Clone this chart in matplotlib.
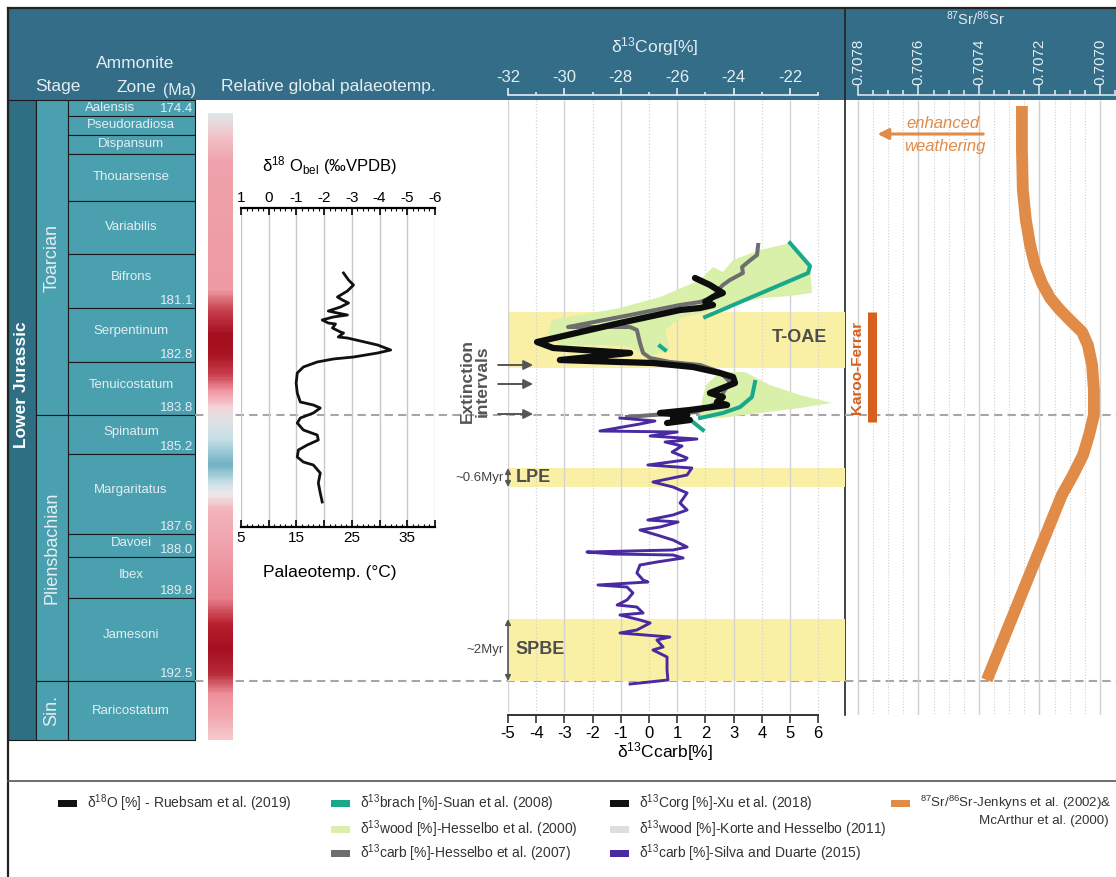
import numpy as np
import matplotlib.pyplot as plt
import matplotlib.transforms as mtransforms
from matplotlib.patches import Rectangle
from matplotlib.colors import LinearSegmentedColormap
from matplotlib.ticker import MultipleLocator, FormatStrFormatter

plt.rcParams['font.family'] = ['Liberation Sans', 'DejaVu Sans']
plt.rcParams['mathtext.fontset'] = 'custom'
plt.rcParams['mathtext.rm'] = 'Liberation Sans'
plt.rcParams['mathtext.it'] = 'Liberation Sans:italic'
plt.rcParams['mathtext.bf'] = 'Liberation Sans:bold'
plt.rcParams['axes.unicode_minus'] = False

# ---- data (vertical unit = stratigraphic level of the chart, 100 = top, 740 = base) ----
zone_names = ['Aalensis', 'Pseudoradiosa', 'Dispansum', 'Thouarsense', 'Variabilis', 'Bifrons',
              'Serpentinum', 'Tenuicostatum', 'Spinatum', 'Margaritatus', 'Davoei', 'Ibex',
              'Jamesoni', 'Raricostatum']
zone_top = [100, 116, 135, 154, 201, 254, 308, 362, 415, 454, 534, 557, 598, 681]
zone_base = [116, 135, 154, 201, 254, 308, 362, 415, 454, 534, 557, 598, 681, 740]
zone_age = ['174.4', '', '', '', '', '181.1', '182.8', '183.8', '185.2', '187.6', '188.0',
            '189.8', '192.5', '']

stage_names = ['Toarcian', 'Pliensbachian', 'Sin.']
stage_top = [100, 415, 681]
stage_base = [415, 681, 740]

boundary_level = [415, 681]

# relative palaeotemperature colour bar
pt_level = [113, 135, 160, 290, 310, 335, 355, 375, 392, 408, 420, 440, 465, 485, 495,
            510, 560, 600, 625, 650, 675, 695, 720, 740]
pt_color = ['#dfe6ea', '#f2c4ca', '#f0a3ac', '#ee9aa4', '#c8404e', '#a50f1f', '#a81422',
            '#c94050', '#f29aa5', '#f4d4d8', '#dfe3e6', '#c6dfe6', '#6fb2c4', '#cfe2e8',
            '#f0e8ea', '#f3b5bd', '#ef9ba6', '#e87f8c', '#b8202f', '#a50f1f', '#b62a37',
            '#ee8f9b', '#f2aab2', '#f6c8cd']

# d18O belemnites (Ruebsam et al. 2019)
d18o_level = [273, 280, 285, 291, 297, 300, 303, 307, 311, 313, 315, 317, 320, 323, 324, 328,
              332, 333, 337, 338, 341, 345, 350, 353, 357, 359, 362, 367, 373, 383, 393, 402,
              405, 408, 413, 418, 423, 430, 435, 440, 445, 450, 457, 462, 465, 473, 483, 493,
              502]
d18o_value = [-2.70, -2.88, -3.06, -2.84, -2.48, -2.66, -2.88, -2.59, -2.15, -2.48, -2.84,
              -2.33, -1.93, -2.15, -2.41, -2.30, -2.59, -2.70, -2.51, -2.84, -3.31, -3.93,
              -4.40, -3.93, -3.06, -2.33, -1.75, -1.25, -1.03, -0.99, -1.03, -1.14, -1.61,
              -1.86, -1.61, -1.14, -1.03, -1.25, -1.75, -1.79, -1.39, -1.07, -1.03, -1.25,
              -1.61, -1.86, -1.79, -1.86, -1.93]

# d13Corg (Xu et al. 2018)
corg_level = [278, 285, 293, 297, 302, 305, 308, 310, 323, 342, 348, 353, 360, 362, 363, 367,
              373, 377, 383, 393, 397, 402, 405, 410, 413, 415, 418, 420, 423]
corg_value = [-25.37, -24.84, -24.38, -24.73, -25.01, -24.73, -25.19, -25.90, -28.03, -30.97,
              -30.40, -27.67, -30.16, -28.03, -26.86, -25.44, -24.48, -24.02, -23.95, -24.84,
              -24.38, -24.59, -24.23, -25.55, -26.61, -25.65, -26.15, -25.55, -26.36]

# d13Cwood (Hesselbo et al. 2000), outlines of the two shaded envelopes
wood1_level = [243, 265, 293, 296, 298, 305, 312, 318, 330, 350, 356, 347, 345, 345, 335,
               320, 315, 308, 297, 280, 267, 272, 260, 250]
wood1_value = [-22.00, -21.29, -21.22, -22.00, -22.96, -24.13, -24.94, -25.90, -26.43, -26.26,
               -26.96, -27.67, -28.74, -30.16, -30.58, -30.44, -29.45, -28.03, -26.61, -25.19,
               -24.73, -24.38, -24.02, -23.06]
wood2_level = [372, 372, 385, 395, 403, 408, 413, 418, 418, 400, 385]
wood2_value = [-24.48, -23.60, -22.71, -21.65, -20.51, -21.65, -23.06, -24.48, -25.19,
               -25.12, -24.98]

# d13Ccarb (Hesselbo et al. 2007)
hcarb_level = [245, 255, 262, 267, 273, 280, 285, 290, 297, 302, 305, 315, 327, 327, 330, 343,
               353, 358, 362, 365, 372, 382, 393, 403, 412, 415, 417]
hcarb_value = [3.87, 3.83, 3.51, 3.30, 3.33, 2.87, 2.62, 2.45, 2.27, 1.81, 1.10, -0.67, -2.87,
               -0.67, -0.43, -0.32, -0.21, 0.04, 0.74, 1.81, 2.52, 2.87, 2.62, 2.41, 1.70,
               0.14, -0.78]

# d13Cbrach (Suan et al. 2008), nan separates sections
brach_level = [243, 266, 273, 317, np.nan, 346, 350, np.nan, 382, 397, 407, 413, 418, np.nan,
               422, 430]
brach_value = [5.00, 5.71, 5.64, 1.99, np.nan, 0.39, 0.57, np.nan, 3.76, 3.65, 3.23, 2.62,
               1.81, np.nan, 1.56, 1.91]

# d13Ccarb (Silva and Duarte 2015)
scarb_level = [418, 421, 424, 431, 432, 436, 439, 442, 446, 452, 458, 460, 465, 468, 475, 482,
               487, 493, 503, 510, 515, 520, 522, 527, 530, 535, 540, 547, 550, 552, 554, 555,
               558, 562, 565, 573, 580, 582, 585, 587, 593, 600, 605, 607, 613, 615, 620, 623,
               630, 633, 637, 640, 647, 650, 657, 670, 680, 683, 684]
scarb_value = [-1.03, 0.21, -0.32, -1.74, 1.00, 0.04, 1.70, 0.57, 1.17, 0.82, 1.35, 1.28,
               -0.04, 1.52, 1.35, 0.14, 0.85, 1.35, 1.10, 1.35, 0.85, -0.04, 1.03, 0.39, -0.32,
               0.28, 0.85, 1.35, 0.85, -2.20, -1.28, 0.85, 1.21, 0.28, -0.32, -0.43, -0.21,
               -0.04, -1.81, -0.78, -0.57, -0.78, -1.13, -0.43, -0.21, -1.03, -0.32, 0.04,
               -0.43, -1.03, 0.74, 0.28, 0.50, 0.14, 0.64, 0.64, 0.67, -0.32, -0.67]

band_names = ['T-OAE', 'LPE', 'SPBE']
band_top = [312, 468, 619]
band_base = [368, 487, 681]
band_span = ['', '~0.6Myr', '~2Myr']

extinction_level = [365, 384, 414]

# 87Sr/86Sr (Jenkyns et al. 2002 & McArthur et al. 2000)
sr_level = [106, 150, 190, 220, 245, 265, 283, 298, 310, 322, 332, 345, 365, 390, 415, 435,
            455, 475, 495, 680]
sr_value = [0.707258, 0.707258, 0.707255, 0.707245, 0.707231, 0.707215, 0.707192, 0.707165,
            0.707132, 0.707093, 0.707059, 0.707040, 0.707026, 0.707020, 0.707020, 0.707036,
            0.707056, 0.707089, 0.707126, 0.707374]
karoo_level = [312, 422]

legend_items = [
    ('δ$^{18}$O [%] - Ruebsam et al. (2019)', '#111111'),
    ('δ$^{13}$brach [%]-Suan et al. (2008)', '#1aa88b'),
    ('δ$^{13}$wood [%]-Hesselbo et al. (2000)', '#d9f0ab'),
    ('δ$^{13}$carb [%]-Hesselbo et al. (2007)', '#6e6e6e'),
    ('δ$^{13}$Corg [%]-Xu et al. (2018)', '#111111'),
    ('δ$^{13}$wood [%]-Korte and Hesselbo (2011)', '#dedede'),
    ('δ$^{13}$carb [%]-Silva and Duarte (2015)', '#4a2aa0'),
    ('$^{87}$Sr/$^{86}$Sr-Jenkyns et al. (2002)&', '#e08b48'),
]

# ---- styles ----
HEADER = '#336d88'
CELL = '#4ba0af'
DARK = '#2e6f84'
LIGHT = '#e4eef2'
TXT = '#4d4d4d'
W, H = 1116, 877

fig = plt.figure(figsize=(W / 100, H / 100), dpi=100)


def panel(x0, y0, x1, y1, **kw):
    return fig.add_axes([x0 / W, 1 - y1 / H, (x1 - x0) / W, (y1 - y0) / H], **kw)


bg = panel(0, 0, W, H)
bg.set_xlim(0, W)
bg.set_ylim(H, 0)
bg.axis('off')

bg.add_patch(Rectangle((8, 8), W - 8, 92, fc=HEADER, ec='none'))
bg.plot([8, 8], [8, H], color='#222222', lw=1.6)
bg.plot([8, W], [8, 8], color='#222222', lw=1.6)
bg.plot([845, 845], [8, 715], color='#222222', lw=1.2)
bg.plot([8, W], [781, 781], color='#555555', lw=1.2)

for lvl in boundary_level:
    bg.plot([195, W], [lvl, lvl], color='#a6a6a6', lw=1.5, ls=(0, (4, 2.5)))

# header texts
bg.text(58, 87, 'Stage', color=LIGHT, fontsize=12.5, ha='center', va='center')
bg.text(135, 63, 'Ammonite', color=LIGHT, fontsize=12.5, ha='center', va='center')
bg.text(136, 88, 'Zone', color=LIGHT, fontsize=12.5, ha='center', va='center')
bg.text(179, 91, '(Ma)', color=LIGHT, fontsize=11.5, ha='center', va='center')
bg.text(328, 86, 'Relative global palaeotemp.', color=LIGHT, fontsize=12.5, ha='center', va='center')
bg.text(655, 47, 'δ$^{13}$Corg[%]', color=LIGHT, fontsize=12.5, ha='center', va='center')
bg.text(975, 19, '$^{87}$Sr/$^{86}$Sr', color=LIGHT, fontsize=10.5, ha='center', va='center')

# stratigraphic columns
bg.add_patch(Rectangle((8, 100), 28, 640, fc=DARK, ec='#1a1a1a', lw=0.8))
bg.text(22, 385, 'Lower Jurassic', rotation=90, color='white', fontsize=12.5,
        fontweight='bold', ha='center', va='center')
for name, top, base in zip(stage_names, stage_top, stage_base):
    bg.add_patch(Rectangle((36, top), 32, base - top, fc=CELL, ec='#1a1a1a', lw=0.8))
    bg.text(52, (top + base) / 2, name, rotation=90, color=LIGHT, fontsize=13,
            ha='center', va='center')
for name, top, base, age in zip(zone_names, zone_top, zone_base, zone_age):
    bg.add_patch(Rectangle((68, top), 127, base - top, fc=CELL, ec='#1a1a1a', lw=0.8))
    mid = (top + base) / 2
    if name == 'Aalensis':
        bg.text(110, mid, name, color=LIGHT, fontsize=9.5, ha='center', va='center')
        bg.text(193, mid + 1, age, color=LIGHT, fontsize=9.5, ha='right', va='center')
        continue
    shift = 4 if age and base - top > 45 else (2 if age else 0)
    bg.text(131, mid - shift, name, color=LIGHT, fontsize=9.5, ha='center', va='center')
    if age:
        bg.text(193, base - 7, age, color=LIGHT, fontsize=9.5, ha='right', va='center')

# palaeotemperature bar
ax_pt = panel(208, 113, 233, 740)
stops = [((l - pt_level[0]) / (pt_level[-1] - pt_level[0]), c) for l, c in zip(pt_level, pt_color)]
cmap = LinearSegmentedColormap.from_list('palaeotemp', stops)
ax_pt.imshow(np.linspace(0, 1, 600)[:, None], aspect='auto', cmap=cmap, vmin=0, vmax=1,
             extent=(0, 1, pt_level[-1], pt_level[0]))
ax_pt.axis('off')

# d18O inset: d18O on top, palaeotemperature on the bottom
ax_o = panel(241, 208, 435, 527, facecolor='none')
ax_o.set_xlim(1, -6)
ax_o.set_ylim(527, 208)
ax_t = ax_o.twiny()
ax_t.set_xlim(5, 40)
ax_t.xaxis.tick_bottom()
ax_t.set_xticks(range(5, 41, 5))
ax_t.set_xticklabels(['5', '', '15', '', '25', '', '35', ''])
ax_t.xaxis.set_minor_locator(MultipleLocator(1))
ax_t.tick_params(axis='x', which='major', direction='in', length=5, width=1.2, labelsize=11, pad=3)
ax_t.tick_params(axis='x', which='minor', direction='in', length=2.5, width=0.8)
for s in ax_t.spines.values():
    s.set_visible(False)

ax_o.xaxis.tick_top()
ax_o.xaxis.set_major_locator(MultipleLocator(1))
ax_o.xaxis.set_minor_locator(MultipleLocator(0.2))
ax_o.tick_params(axis='x', which='major', direction='in', length=5, width=1.2, labelsize=11, pad=2)
ax_o.tick_params(axis='x', which='minor', direction='in', length=2.5, width=0.8)
ax_o.set_yticks([])
ax_o.grid(axis='x', which='major', color='#c8c8c8', lw=1)
for s in ['left', 'right']:
    ax_o.spines[s].set_visible(False)
for s in ['top', 'bottom']:
    ax_o.spines[s].set_linewidth(1.6)
ax_o.plot(d18o_value, d18o_level, color='#111111', lw=2.0, solid_joinstyle='round')
bg.text(330, 166, 'δ$^{18}$ O$_{\\mathrm{bel}}$ (‰VPDB)', fontsize=12, ha='center', va='center')
bg.text(330, 572, 'Palaeotemp. (°C)', fontsize=12.5, ha='center', va='center')

# carbon isotope panel
ax_c = panel(508, 100, 845, 715, facecolor='none')
ax_c.set_xlim(-5, 6.95)
ax_c.set_ylim(715, 100)
ax_corg = ax_c.twiny()
ax_corg.set_xlim(-32, -20.05)
ax_corg.axis('off')
corg = ax_corg.transData

for v in range(-5, 7):
    ax_c.vlines(v, 100, 712, color='#d2d2d2', lw=1 if v % 2 else 0.9,
                ls='-' if v % 2 else ':', zorder=1)
for name, top, base, span in zip(band_names, band_top, band_base, band_span):
    ax_c.axhspan(top, base, color='#f9f0a6', lw=0, zorder=0.5)
    if span:
        ax_c.text(-4.72, (top + base) / 2, name, fontsize=13, fontweight='bold', color=TXT,
                  ha='left', va='center', zorder=6)
        ax_c.text(-5.17, (top + base) / 2, span, fontsize=9.5, color='#444444',
                  ha='right', va='center')
        ax_c.annotate('', xy=(-5, top), xytext=(-5, base), annotation_clip=False,
                      arrowprops=dict(arrowstyle='<|-|>', color='#555555', lw=1.2,
                                      mutation_scale=8, shrinkA=0, shrinkB=0))
    else:
        ax_c.text(5.35, (top + base) / 2 - 2, name, fontsize=13, fontweight='bold', color=TXT,
                  ha='center', va='center', zorder=6)

ax_c.fill(wood1_value, wood1_level, color='#d9f0ab', lw=0, zorder=2, transform=corg)
ax_c.fill(wood2_value, wood2_level, color='#d9f0ab', lw=0, zorder=2, transform=corg)
ax_c.plot(hcarb_value, hcarb_level, color='#6e6e6e', lw=2.9, zorder=3)
ax_c.plot(brach_value, brach_level, color='#1aa88b', lw=2.9, zorder=4)
ax_c.plot(scarb_value, scarb_level, color='#4a2aa0', lw=2.1, zorder=4.5)
ax_c.plot(corg_value, corg_level, color='#0d0d0d', lw=4.5, zorder=5,
          solid_joinstyle='round', solid_capstyle='round', transform=corg)

for lvl in extinction_level:
    ax_c.annotate('', xy=(-4.11, lvl), xytext=(-5.35, lvl), annotation_clip=False,
                  arrowprops=dict(arrowstyle='-|>', color='#555555', lw=1.4,
                                  mutation_scale=14, shrinkA=0, shrinkB=0))
ax_c.text(-6.17, 381, 'Extinction\nintervals', rotation=90, fontsize=12.5, fontweight='bold',
          color='#555555', ha='center', va='center', linespacing=0.95)

for s in ['left', 'right', 'top']:
    ax_c.spines[s].set_visible(False)
ax_c.spines['bottom'].set_bounds(-5, 6)
ax_c.spines['bottom'].set_color('#333333')
ax_c.spines['bottom'].set_linewidth(1.4)
ax_c.set_xticks(range(-5, 7))
ax_c.set_yticks([])
ax_c.tick_params(axis='x', direction='out', length=6, width=1.2, color='#333333',
                 labelsize=12, pad=2)
bg.text(665, 752, 'δ$^{13}$Ccarb[%]', fontsize=12.5, ha='center', va='center')

# header axis for d13Corg
ax_h = panel(508, 88, 845, 95, facecolor='none')
ax_h.set_xlim(-32, -20.05)
ax_h.set_xticks(range(-32, -21, 2))
ax_h.set_xticks(range(-31, -20, 2), minor=True)
ax_h.set_yticks([])
ax_h.tick_params(axis='x', which='both', direction='in', bottom=True, top=False,
                 labelbottom=False, labeltop=True, colors=LIGHT, width=1.2)
ax_h.tick_params(axis='x', which='major', length=5, labelsize=12, pad=2)
ax_h.tick_params(axis='x', which='minor', length=2.5)
for s in ['left', 'right', 'top']:
    ax_h.spines[s].set_visible(False)
ax_h.spines['bottom'].set_bounds(-32, -21)
ax_h.spines['bottom'].set_color(LIGHT)
ax_h.spines['bottom'].set_linewidth(1.2)

# Sr panel
sr_lim = (0.707843, 0.706947)
ax_s = panel(845, 100, W, 715, facecolor='none')
ax_s.set_xlim(*sr_lim)
ax_s.set_ylim(715, 100)
ax_s.axis('off')
for v in np.arange(0.70700, 0.70781, 0.00005):
    major = abs(round(v / 0.0002) * 0.0002 - v) < 1e-8
    ax_s.vlines(v, 100, 715, color='#d0d0d0', lw=1 if major else 0.8,
                ls='-' if major else ':', zorder=1)
ax_s.plot(sr_value, sr_level, color='#e08b48', lw=8.5, solid_capstyle='butt',
          solid_joinstyle='round', zorder=3)

blend = mtransforms.blended_transform_factory(ax_s.transAxes, ax_s.transData)
ax_s.vlines(0.0996, karoo_level[0], karoo_level[1], color='#d6611c', lw=6.5, transform=blend)
ax_s.text(0.044, sum(karoo_level) / 2, 'Karoo-Ferrar', rotation=90, color='#d6611c',
          fontsize=11, fontweight='bold', ha='center', va='center', transform=blend)
ax_s.annotate('', xy=(0.12, 134), xytext=(0.51, 134), xycoords=blend, textcoords=blend,
              arrowprops=dict(arrowstyle='-|>', color='#e08b48', lw=2.2, mutation_scale=16,
                              shrinkA=0, shrinkB=0))
ax_s.text(0.36, 124, 'enhanced', color='#e08b48', fontsize=12, style='italic',
          ha='center', va='center', transform=blend)
ax_s.text(0.37, 147, 'weathering', color='#e08b48', fontsize=12, style='italic',
          ha='center', va='center', transform=blend)

ax_sh = panel(845, 88, W, 95, facecolor='none')
ax_sh.set_xlim(*sr_lim)
ax_sh.set_xticks([0.7078, 0.7076, 0.7074, 0.7072, 0.7070])
ax_sh.xaxis.set_minor_locator(MultipleLocator(0.00005))
ax_sh.xaxis.set_major_formatter(FormatStrFormatter('%.4f'))
ax_sh.set_yticks([])
ax_sh.tick_params(axis='x', which='both', direction='in', bottom=True, top=False,
                  labelbottom=False, labeltop=True, colors=LIGHT, width=1.1)
ax_sh.tick_params(axis='x', which='major', length=7, labelsize=11, labelrotation=90, pad=2)
ax_sh.tick_params(axis='x', which='minor', length=3.5)
for s in ['left', 'right', 'top']:
    ax_sh.spines[s].set_visible(False)
ax_sh.spines['bottom'].set_bounds(0.7078, sr_lim[1])
ax_sh.spines['bottom'].set_color(LIGHT)
ax_sh.spines['bottom'].set_linewidth(1.1)

# legend
legend_pos = [(58, 803), (331, 803), (331, 829), (331, 853),
              (610, 803), (610, 829), (610, 853), (891, 803)]
for (label, color), (x, y) in zip(legend_items, legend_pos):
    size = 10 if x < 850 else 9.6
    bg.add_patch(Rectangle((x, y - 3.5), 19, 7, fc=color, ec='none'))
    bg.text(x + 29, y, label, fontsize=size, color='#333333', ha='left', va='center')
bg.text(1044, 821, 'McArthur et al. (2000)', fontsize=9.6, color='#333333',
        ha='center', va='center')

fig.savefig('out.png', dpi=100)
